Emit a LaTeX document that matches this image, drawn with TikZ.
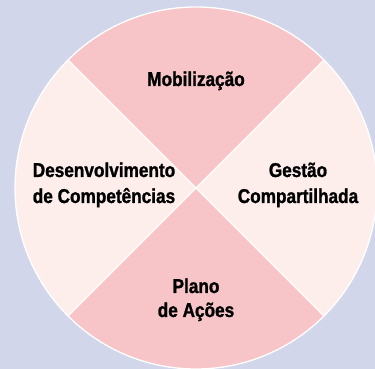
\documentclass[tikz,border=0pt]{standalone}
\usepackage{fontspec}
\setmainfont{Liberation Sans}[FakeStretch=0.86, BoldFeatures={FakeBold=1.2}]
\definecolor{bgc}{HTML}{D1D6EA}
\definecolor{pinkdark}{HTML}{F7C5C7}
\definecolor{pinklight}{HTML}{FDEEEC}
\tikzset{
  lbl/.style={font=\bfseries\fontsize{20}{25}\selectfont, anchor=base, inner sep=0pt, text=black},
  sep/.style={draw=white, line width=1.3pt}
}
\begin{document}
\begin{tikzpicture}[x=1pt,y=1pt]
\useasboundingbox (0,0) rectangle (375,369);
\fill[bgc] (0,0) rectangle (375,369);
\clip (0,0) rectangle (375,369);
\coordinate (c) at (196,181);
\fill[pinkdark] (c) -- ++(45:181) arc[start angle=45,end angle=135,radius=181] -- cycle;
\fill[pinklight] (c) -- ++(135:181) arc[start angle=135,end angle=225,radius=181] -- cycle;
\fill[pinkdark] (c) -- ++(225:181) arc[start angle=225,end angle=315,radius=181] -- cycle;
\fill[pinklight] (c) -- ++(315:181) arc[start angle=315,end angle=405,radius=181] -- cycle;
\draw[sep] (c) circle[radius=181];
\path (c) ++(45:181) coordinate (ne) (c) ++(135:181) coordinate (nw)
      (c) ++(225:181) coordinate (sw) (c) ++(315:181) coordinate (se);
\draw[sep] (ne) -- (sw);
\draw[sep] (nw) -- (se);
\node[lbl] (mob) at (196,283) {Mobilização};
\node[lbl] (pl1) at (196,76) {Plano};
\node[lbl] (pl2) at (196,52) {de Ações};
\node[lbl] (ge1) at (298,192) {Gestão};
\node[lbl] (ge2) at (298,166) {Compartilhada};
\node[lbl] (de1) at (104,192) {Desenvolvimento};
\node[lbl] (de2) at (104,166) {de Competências};
\end{tikzpicture}
\end{document}
